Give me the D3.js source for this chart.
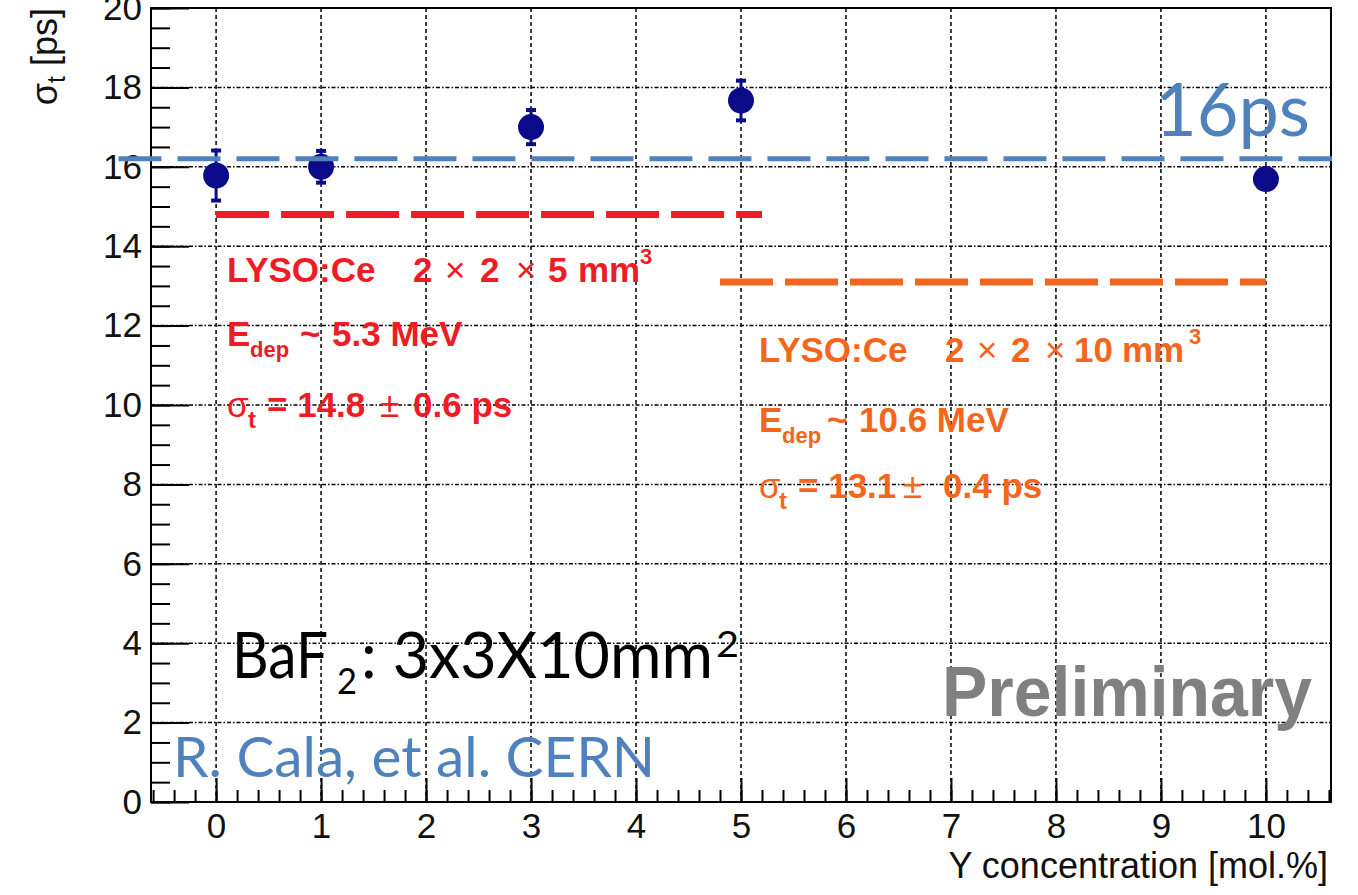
<!DOCTYPE html>
<html>
<head>
<meta charset="utf-8">
<script src="https://cdn.jsdelivr.net/npm/d3@7"></script>
<style>
  body { margin: 0; background: #fff; }
  svg { display: block; }
</style>
</head>
<body>
<div id="chart"></div>
<script>
// ---- data ----
var concentration = [0, 1, 3, 5, 10];          // Y concentration [mol.%]
var sigmaT = [15.78, 16.0, 17.0, 17.67, 15.69]; // time resolution [ps]
var sigmaErr = [0.63, 0.40, 0.43, 0.50, 0.10];

var xTicks = [0, 1, 2, 3, 4, 5, 6, 7, 8, 9, 10];
var yTicks = [0, 2, 4, 6, 8, 10, 12, 14, 16, 18, 20];

// reference (dashed) levels
var refNames = ["LYSO 2x2x5", "LYSO 2x2x10", "16ps"];
var refValues = [14.8, 13.1, 16.2];
var refFrom = [0, 4.8, -0.93];
var refTo = [5.2, 10.0, 10.63];

// ---- layout ----
var svgWidth = 1358, svgHeight = 895;
var plotLeft = 151, plotRight = 1331, plotTop = 8, plotBottom = 802;
var rootFont = "'Liberation Sans', Arial, Helvetica, sans-serif";
var slideFont = "Lato, 'Open Sans', sans-serif";
var red = "#ee1c25", orange = "#f4661c", navy = "#0b0b8a", slideBlue = "#4f81bd";

var svg = d3.select("#chart").append("svg")
  .attr("width", svgWidth)
  .attr("height", svgHeight);

var xScale = d3.scaleLinear().domain([-0.62, 10.62]).range([plotLeft, plotRight]);
var yScale = d3.scaleLinear().domain([0, 20]).range([plotBottom, plotTop]);

// grid
var grid = svg.append("g");
grid.selectAll(".vgrid").data(xTicks).enter().append("line")
  .attr("x1", function(d) { return xScale(d); })
  .attr("x2", function(d) { return xScale(d); })
  .attr("y1", plotTop).attr("y2", plotBottom)
  .attr("stroke", "#000").attr("stroke-width", 1.5)
  .attr("stroke-dasharray", "4,3");
grid.selectAll(".hgrid").data(yTicks.slice(1, -1)).enter().append("line")
  .attr("x1", plotLeft).attr("x2", plotRight)
  .attr("y1", function(d) { return yScale(d); })
  .attr("y2", function(d) { return yScale(d); })
  .attr("stroke", "#000").attr("stroke-width", 1.5)
  .attr("stroke-dasharray", "4,2,1.5,2");

// axes (ROOT style, ticks pointing inward)
var xMinor = d3.range(-3, 54).map(function(i) { return i * 0.2; });
var yMinor = d3.range(0, 41).map(function(i) { return i * 0.5; });

svg.append("g").attr("transform", "translate(0," + plotBottom + ")")
  .call(d3.axisBottom(xScale).tickValues(xMinor).tickSize(-12).tickFormat(""))
  .call(function(g) { g.select(".domain").remove(); })
  .selectAll("line").attr("stroke-width", 2);

var xAxisG = svg.append("g").attr("transform", "translate(0," + plotBottom + ")")
  .call(d3.axisBottom(xScale).tickValues(xTicks).tickSize(-24).tickPadding(11))
  .attr("font-size", 35).attr("font-family", rootFont);
xAxisG.select(".domain").remove();
xAxisG.selectAll("line").attr("stroke-width", 2);
xAxisG.selectAll("text").attr("fill", "#111");

svg.append("g").attr("transform", "translate(" + plotLeft + ",0)")
  .call(d3.axisLeft(yScale).tickValues(yMinor).tickSize(-19).tickFormat(""))
  .call(function(g) { g.select(".domain").remove(); })
  .selectAll("line").attr("stroke-width", 2);

var yAxisG = svg.append("g").attr("transform", "translate(" + plotLeft + ",0)")
  .call(d3.axisLeft(yScale).tickValues(yTicks).tickSize(-38).tickPadding(9))
  .attr("font-size", 35).attr("font-family", rootFont);
yAxisG.select(".domain").remove();
yAxisG.selectAll("line").attr("stroke-width", 2);
yAxisG.selectAll("text").attr("fill", "#111");

// frame
svg.append("rect")
  .attr("x", plotLeft).attr("y", plotTop)
  .attr("width", plotRight - plotLeft).attr("height", plotBottom - plotTop)
  .attr("fill", "none").attr("stroke", "#000").attr("stroke-width", 2);

// axis titles
svg.append("text")
  .attr("x", 1328).attr("y", 878)
  .attr("text-anchor", "end")
  .attr("font-family", rootFont).attr("font-size", 36).attr("fill", "#111")
  .text("Y concentration [mol.%]");

var yTitle = svg.append("text")
  .attr("transform", "translate(57," + plotTop + ") rotate(-90)")
  .attr("text-anchor", "end")
  .attr("font-family", rootFont).attr("font-size", 36).attr("fill", "#111");
yTitle.append("tspan").text("σ");
yTitle.append("tspan").attr("font-size", 25).attr("dy", 8).text("t");
yTitle.append("tspan").attr("dy", -8).style("white-space", "pre").text(" [ps]");

// LYSO reference levels
[0, 1].forEach(function(i) {
  svg.append("line")
    .attr("x1", xScale(refFrom[i])).attr("x2", xScale(refTo[i]))
    .attr("y1", yScale(refValues[i])).attr("y2", yScale(refValues[i]))
    .attr("stroke", i === 0 ? red : orange)
    .attr("stroke-width", 7)
    .attr("stroke-dasharray", "53,12");
});

// data points with error bars
var pts = concentration.map(function(c, i) {
  return { x: c, y: sigmaT[i], e: sigmaErr[i] };
});
var ptG = svg.append("g").attr("fill", navy).attr("stroke", navy);
ptG.selectAll(".err").data(pts).enter().append("line")
  .attr("x1", function(d) { return xScale(d.x); })
  .attr("x2", function(d) { return xScale(d.x); })
  .attr("y1", function(d) { return yScale(d.y + d.e); })
  .attr("y2", function(d) { return yScale(d.y - d.e); })
  .attr("stroke-width", 3);
ptG.selectAll(".capTop").data(pts.filter(function(d) { return d.e > 0.2; })).enter().append("rect")
  .attr("x", function(d) { return xScale(d.x) - 5; })
  .attr("y", function(d) { return yScale(d.y + d.e) - 2; })
  .attr("width", 10).attr("height", 4).attr("stroke", "none");
ptG.selectAll(".capBot").data(pts.filter(function(d) { return d.e > 0.2; })).enter().append("rect")
  .attr("x", function(d) { return xScale(d.x) - 5; })
  .attr("y", function(d) { return yScale(d.y - d.e) - 2; })
  .attr("width", 10).attr("height", 4).attr("stroke", "none");
ptG.selectAll("circle").data(pts).enter().append("circle")
  .attr("cx", function(d) { return xScale(d.x); })
  .attr("cy", function(d) { return yScale(d.y); })
  .attr("r", 13).attr("stroke", "none");

// ROOT-style annotation text, piece by piece: [text, x, y, size, weight]
function drawPieces(pieces, color, family) {
  pieces.forEach(function(p) {
    svg.append("text")
      .attr("x", p[1]).attr("y", p[2])
      .attr("font-size", p[3]).attr("font-weight", p[4])
      .attr("font-family", family).attr("fill", color)
      .style("white-space", "pre")
      .text(p[0]);
  });
}

drawPieces([
  ["LYSO:Ce", 227, 282, 35, "bold"], ["2", 413, 282, 35, "bold"], ["×", 445, 282, 35, "normal"],
  ["2", 480, 282, 35, "bold"], ["×", 516, 282, 35, "normal"], ["5", 548, 282, 35, "bold"],
  ["mm", 578, 282, 35, "bold"], ["3", 640, 264, 22, "bold"],
  ["E", 227, 346, 35, "bold"], ["dep", 250, 357, 22, "bold"], ["~", 300, 346, 35, "bold"],
  ["5.3 MeV", 332, 346, 35, "bold"],
  ["σ", 227, 417, 35, "normal"], ["t", 248, 428, 24, "bold"], ["= 14.8", 267, 417, 35, "bold"],
  ["±", 380, 417, 35, "normal"], ["0.6 ps", 413, 417, 35, "bold"]
], red, rootFont);

drawPieces([
  ["LYSO:Ce", 759, 362, 35, "bold"], ["2", 945, 362, 35, "bold"], ["×", 977, 362, 35, "normal"],
  ["2", 1011, 362, 35, "bold"], ["×", 1045, 362, 35, "normal"], ["10", 1074, 362, 35, "bold"],
  ["mm", 1122, 362, 35, "bold"], ["3", 1189, 344, 22, "bold"],
  ["E", 759, 432, 35, "bold"], ["dep", 782, 443, 22, "bold"], ["~", 827, 432, 35, "bold"],
  ["10.6 MeV", 859, 432, 35, "bold"],
  ["σ", 759, 498, 35, "normal"], ["t", 779, 509, 24, "bold"], ["= 13.1", 798, 498, 35, "bold"],
  ["±", 903, 498, 35, "normal"], ["0.4 ps", 943, 498, 35, "bold"]
], orange, rootFont);

svg.append("text")
  .attr("x", 942).attr("y", 716)
  .attr("font-family", rootFont).attr("font-weight", "bold").attr("font-size", 70)
  .attr("fill", "#808080")
  .attr("textLength", 370).attr("lengthAdjust", "spacingAndGlyphs")
  .text("Preliminary");

// slide overlays: 16ps level line and labels
svg.append("line")
  .attr("x1", xScale(refFrom[2])).attr("x2", xScale(refTo[2]))
  .attr("y1", yScale(refValues[2])).attr("y2", yScale(refValues[2]))
  .attr("stroke", slideBlue).attr("stroke-width", 5)
  .attr("stroke-dasharray", "43,16");

svg.append("text")
  .attr("x", 1155).attr("y", 136)
  .attr("font-family", slideFont).attr("font-size", 74).attr("fill", slideBlue)
  .attr("textLength", 155).attr("lengthAdjust", "spacingAndGlyphs")
  .text(refNames[2]);

svg.append("text")
  .attr("x", 173).attr("y", 777)
  .attr("font-family", slideFont).attr("font-size", 56).attr("fill", slideBlue)
  .attr("textLength", 482).attr("lengthAdjust", "spacingAndGlyphs")
  .text("R. Cala, et al. CERN");

var baf = [
  ["BaF", 232, 678, 63, 96],
  ["2", 337, 694, 36, 20],
  [": 3x3X10mm", 361, 678, 63, 352],
  ["2", 716, 657, 36, 23]
];
baf.forEach(function(p) {
  svg.append("text")
    .attr("x", p[1]).attr("y", p[2])
    .attr("font-family", slideFont).attr("font-size", p[3]).attr("fill", "#000")
    .attr("textLength", p[4]).attr("lengthAdjust", "spacingAndGlyphs")
    .style("white-space", "pre")
    .text(p[0]);
});
</script>
</body>
</html>
